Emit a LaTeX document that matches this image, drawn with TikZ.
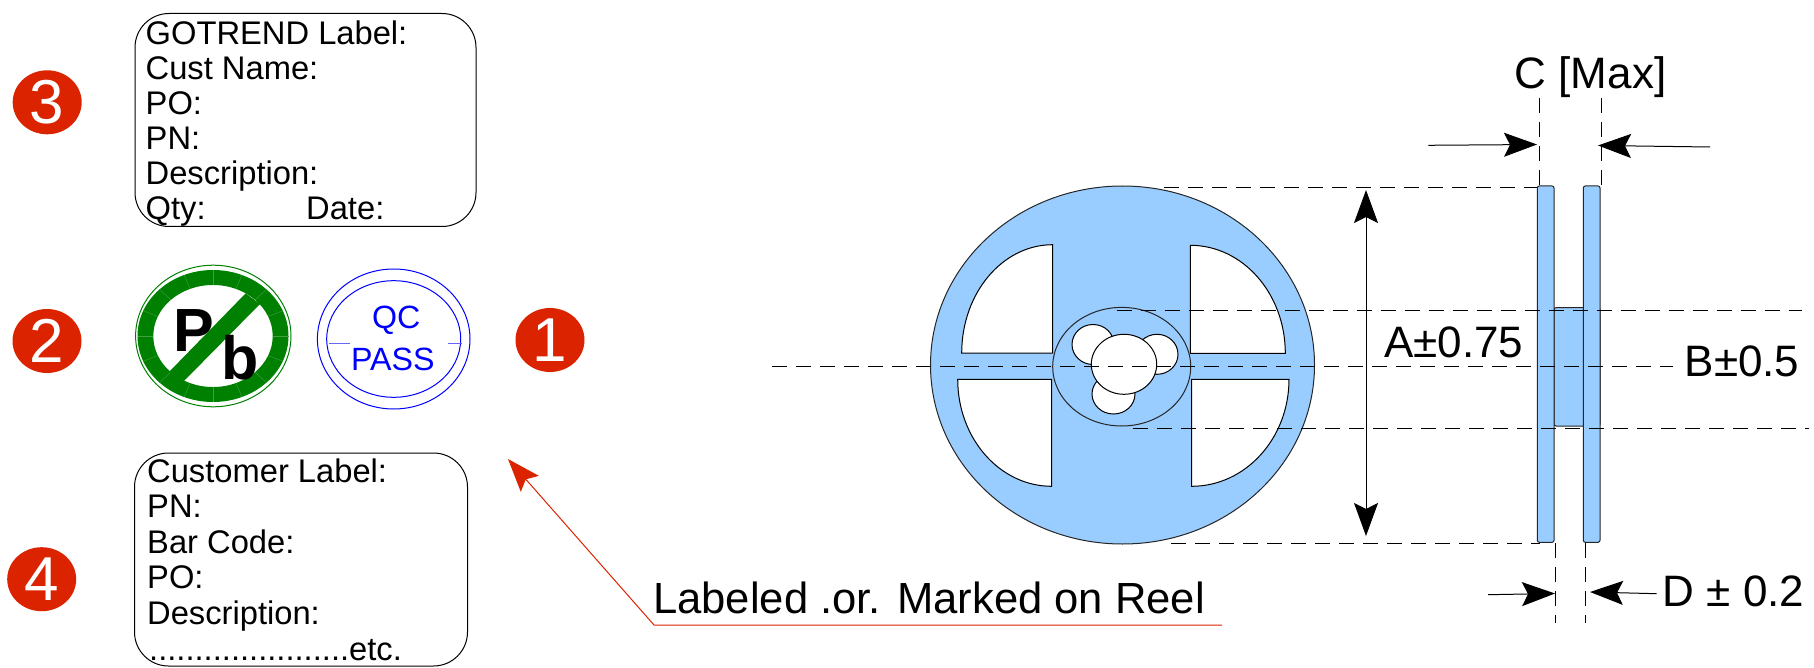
\documentclass[tikz,border=0pt]{standalone}
\usepackage{fontspec}
\setmainfont{Liberation Sans}
\usetikzlibrary{arrows.meta,shapes.geometric}
\definecolor{reelblue}{HTML}{99CCFF}
\definecolor{badgered}{HTML}{DC2300}
\definecolor{leadgreen}{HTML}{008000}
\newcommand{\fs}[1]{\fontsize{#1pt}{#1pt}\selectfont}
\tikzset{
  boxtext/.style={anchor=base west,inner sep=0pt,font=\fs{32.7}},
  dimtext/.style={anchor=base west,inner sep=0pt,font=\fs{44}},
  labelbox/.style={draw=black,line width=1pt,rounded corners=34pt,inner sep=0pt,anchor=north west},
  badge/.style={ellipse,fill=badgered,text=white,inner sep=0pt,minimum width=69pt,minimum height=64pt,font=\fs{62}},
  part/.style={draw=black!85,line width=1pt,fill=reelblue},
  hole/.style={draw=black,line width=1pt,fill=white},
  dimline/.style={draw=black,line width=1pt,dash pattern=on 15pt off 9pt},
  dimarrow/.style={draw=black,line width=1pt,-{Stealth[length=33pt,width=24pt,inset=6pt]}},
  qctext/.style={inner sep=0pt,text=blue,font=\fs{32.2}},
  pbtext/.style={anchor=base west,inner sep=0pt,font=\bfseries\fs{61}},
}
\begin{document}
\begin{tikzpicture}[x=1pt,y=-1pt]
\useasboundingbox (0,0) rectangle (1814,668);

% label box 3
\node[labelbox,minimum width=341pt,minimum height=213pt] (box3) at (134.5,13) {};
\node[boxtext] (t31) at (145.5,44.7) {GOTREND Label:};
\node[boxtext] (t32) at (145.5,79.7) {Cust Name:};
\node[boxtext] (t33) at (145.5,114.7) {PO:};
\node[boxtext] (t34) at (145.5,149.7) {PN:};
\node[boxtext] (t35) at (145.5,184.7) {Description:};
\node[boxtext] (t36) at (145.5,220) {Qty:};
\node[boxtext] (t37) at (306,220) {Date:};

% label box 4
\node[labelbox,minimum width=333pt,minimum height=213pt] (box4) at (134,452.5) {};
\node[boxtext] (t41) at (147,482) {Customer Label:};
\node[boxtext] (t42) at (147,517.5) {PN:};
\node[boxtext] (t43) at (147,553) {Bar Code:};
\node[boxtext] (t44) at (147,588.5) {PO:};
\node[boxtext] (t45) at (147,624) {Description:};
\node[boxtext] (t46) at (149,660) {......................etc.};

% badges
\node[badge] (b3) at (47.2,102.3) {3};
\node[badge] (b2) at (47,341) {2};
\node[badge] (b1) at (550,340) {1};
\node[badge] (b4) at (41.7,579.2) {4};

% no lead symbol
\draw[leadgreen,line width=1pt] (213.3,336) ellipse [x radius=77.7,y radius=70.8];
\fill[leadgreen,even odd rule] (213,336) ellipse [x radius=75.5,y radius=66]
  (213,336) ellipse [x radius=59.7,y radius=51];
\foreach \t in {0,22.5,...,337.5}
  \draw[leadgreen!75!white,line width=0.4pt] ({213+59.7*cos(\t)},{336+51*sin(\t)}) -- ({213+75.5*cos(\t)},{336+66*sin(\t)});
\fill[leadgreen] (245.7,293.3) -- (260,304) -- (183.3,381.7) -- (169.3,371.7) -- cycle;
\node[pbtext] (pbp) at (173,351) {P};
\node[pbtext] (pbb) at (221,379.5) {b};

% QC stamp
\draw[blue,line width=1pt] (393.7,339) ellipse [x radius=76.3,y radius=70];
\draw[blue,line width=1pt] (393.7,339) ellipse [x radius=67,y radius=58.3];
\draw[blue!60,line width=1pt] (329.3,343.3) -- (350,343.3) (447.7,343.3) -- (462.3,343.3);
\node[qctext,anchor=base] (qc) at (396.3,328.3) {QC};
\node[qctext,anchor=base] (pass) at (392.8,370.7) {PASS};

% reel front view
\draw[part] (1122.5,365) ellipse [x radius=192,y radius=179];
\draw[hole] (1052.7,244.7) -- (1052.7,353) -- (961.7,353) .. controls (961.7,293.2) and (1002.4,244.7) .. (1052.7,244.7) -- cycle;
\draw[hole] (1190.3,245.3) -- (1190.3,353.3) -- (1285.3,353.3) .. controls (1285.3,293.7) and (1242.8,245.3) .. (1190.3,245.3) -- cycle;
\draw[hole] (1051.7,486.3) -- (1051.7,379.3) -- (957.7,379.3) .. controls (957.7,438.4) and (999.8,486.3) .. (1051.7,486.3) -- cycle;
\draw[hole] (1191.7,486.3) -- (1191.7,379.3) -- (1289,379.3) .. controls (1289,438.4) and (1245.4,486.3) .. (1191.7,486.3) -- cycle;
\draw[part] (1121.7,366.7) ellipse [x radius=69,y radius=59.3];
\draw[hole] (1093,344.5) ellipse [x radius=21,y radius=20];
\draw[hole] (1157,354.3) ellipse [x radius=21,y radius=20];
\draw[hole] (1113.5,394) ellipse [x radius=21.5,y radius=20];
\draw[hole] (1124,364.3) ellipse [x radius=32.7,y radius=30];

% reel side view
\draw[part,rounded corners=2pt] (1554,307.7) rectangle (1600,426);
\draw[part,rounded corners=2pt] (1537.3,186) rectangle (1554,542.3);
\draw[part,rounded corners=2pt] (1583.3,186) rectangle (1600,542.3);

% dimension extension lines
\coordinate (ce1) at (772,366.7); \coordinate (ce2) at (1673,366.7);
\coordinate (up1) at (1116.7,310.5); \coordinate (up2) at (1802,310.5);
\coordinate (lo1) at (1133,428.3); \coordinate (lo2) at (1809,428.3);
\coordinate (tp1) at (1164,187.5); \coordinate (tp2) at (1537,187.5);
\coordinate (bt1) at (1171,543.3); \coordinate (bt2) at (1540,543.3);
\coordinate (cl1) at (1539.7,98); \coordinate (cl2) at (1539.7,186);
\coordinate (cr1) at (1601.3,98); \coordinate (cr2) at (1601.3,186);
\coordinate (dl1) at (1555.7,543); \coordinate (dl2) at (1555.7,623);
\coordinate (dr1) at (1585,543); \coordinate (dr2) at (1585,623);
\foreach \a/\b in {ce1/ce2,up1/up2,lo1/lo2,tp1/tp2,bt1/bt2,cl1/cl2,cr1/cr2,dl1/dl2,dr1/dr2}
  \draw[dimline] (\a) -- (\b);

% dimension arrows
\coordinate (ca1) at (1428.3,145.3); \coordinate (ca2) at (1537,144.5);
\coordinate (cb1) at (1710,147); \coordinate (cb2) at (1598,145.5);
\coordinate (da1) at (1488,594.7); \coordinate (da2) at (1555,593.5);
\coordinate (db1) at (1656.7,593.7); \coordinate (db2) at (1590,592);
\coordinate (aa1) at (1366,363); \coordinate (aa2) at (1366,190);
\coordinate (ab2) at (1366,536);
\draw[dimarrow] (ca1) -- (ca2);
\draw[dimarrow] (cb1) -- (cb2);
\draw[dimarrow] (da1) -- (da2);
\draw[dimarrow] (db1) -- (db2);
\draw[dimarrow] (aa1) -- (aa2);
\draw[dimarrow] (aa1) -- (ab2);

% dimension text
\node[dimtext] (cmax) at (1514.5,88.3) {C [Max]};
\node[dimtext] (adim) at (1384,357) {A±0.75};
\node[dimtext] (bdim) at (1684.5,376) {B±0.5};
\node[dimtext] (ddim) at (1662.5,606.7) {D ± 0.2};

% callout
\node[dimtext,font=\fs{43.6}] (mark) at (653,613) {Labeled .or. Marked on Reel};
\coordinate (mk1) at (1222,625); \coordinate (mk2) at (654,625); \coordinate (mk3) at (508,459);
\draw[badgered,line width=1pt,-{Stealth[length=33pt,width=24pt,inset=6pt]}] (mk1) -- (mk2) -- (mk3);
\end{tikzpicture}
\end{document}
